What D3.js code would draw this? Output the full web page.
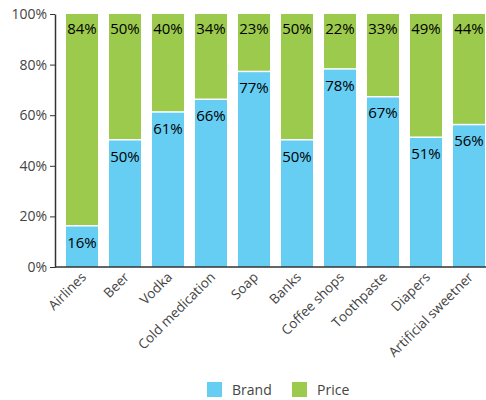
<!DOCTYPE html>
<html>
<head>
<meta charset="utf-8">
<script src="https://cdn.jsdelivr.net/npm/d3@7"></script>
<style>
  body { margin: 0; background: #fff; }
  text { font-family: "Open Sans", "DejaVu Sans", sans-serif; }
</style>
</head>
<body>
<script>
var width = 486,
    height = 400;

// data
var categories = ['Airlines', 'Beer', 'Vodka', 'Cold medication', 'Soap', 'Banks',
                  'Coffee shops', 'Toothpaste', 'Diapers', 'Artificial sweetner'];
var brand = [16, 50, 61, 66, 77, 50, 78, 67, 51, 56];
var price = [84, 50, 40, 34, 23, 50, 22, 33, 49, 44];
var yTicks = [0, 20, 40, 60, 80, 100];
var seriesNames = ['Brand', 'Price'];
var colors = ['#66cdf3', '#9cca4c'];

var svg = d3.select('body')
            .append('svg')
            .attr('width', width)
            .attr('height', height)

var x = d3.scaleBand()
    .domain(categories)
    .range([55, 496])
    .paddingInner(0.256)
    .paddingOuter(0.256)

var y = d3.scaleLinear()
    .domain([0, 100])
    .range([267, 14])

var rows = categories.map(function(c, i) {
  return {cat: c, Brand: brand[i], Price: price[i]}
})

// bars: brand at the bottom, price on top up to 100
var g = svg.append('g')
g.selectAll('rect.brand')
  .data(rows)
  .enter().append('rect')
  .attr('x', d => x(d.cat))
  .attr('width', x.bandwidth())
  .attr('y', d => y(d.Brand))
  .attr('height', d => y(0) - y(d.Brand))
  .attr('fill', colors[0])

g.selectAll('rect.price')
  .data(rows)
  .enter().append('rect')
  .attr('x', d => x(d.cat))
  .attr('width', x.bandwidth())
  .attr('y', y(100))
  .attr('height', d => y(d.Brand) - y(100) - 1.5)
  .attr('fill', colors[1])

// value labels
g.selectAll('text.pl')
  .data(rows)
  .enter().append('text')
  .attr('x', d => x(d.cat) + x.bandwidth() / 2)
  .attr('y', y(100) + 20)
  .attr('text-anchor', 'middle')
  .attr('font-size', 15)
  .attr('fill', '#000')
  .text(d => d.Price + '%')

g.selectAll('text.bl')
  .data(rows)
  .enter().append('text')
  .attr('x', d => x(d.cat) + x.bandwidth() / 2)
  .attr('y', d => y(d.Brand) + 21)
  .attr('text-anchor', 'middle')
  .attr('font-size', 15)
  .attr('fill', '#000')
  .text(d => d.Brand + '%')

// y axis
var yAxis = svg.append('g')
  .attr('transform', 'translate(55,0)')
  .call(d3.axisLeft(y).tickValues(yTicks).tickFormat(d => d + '%').tickSize(5).tickSizeOuter(0))
yAxis.select('.domain').attr('stroke', '#333').attr('stroke-width', 1.5)
yAxis.selectAll('.tick line').attr('stroke', '#333')
yAxis.selectAll('.tick text')
  .attr('font-size', 14)
  .attr('fill', '#444')
  .attr('x', -8)
  .attr('font-family', '"Open Sans", "DejaVu Sans", sans-serif')

// x axis
var xAxis = svg.append('g')
  .attr('transform', 'translate(0,267)')
  .call(d3.axisBottom(x).tickSize(0).tickSizeOuter(0))
xAxis.select('.domain').attr('stroke', '#333').attr('stroke-width', 1.5)
  .attr('d', 'M55,0H486')
xAxis.selectAll('.tick text')
  .attr('font-size', 13.5)
  .attr('fill', '#444')
  .attr('font-family', '"Open Sans", "DejaVu Sans", sans-serif')
  .attr('text-anchor', 'end')
  .attr('dy', null)
  .attr('y', 0)
  .attr('transform', 'translate(5,11) rotate(-45)')

// legend
var legend = svg.append('g')
seriesNames.forEach(function(s, i) {
  var lx = [207, 292][i]
  legend.append('rect')
    .attr('x', lx).attr('y', 382)
    .attr('width', 15).attr('height', 15)
    .attr('fill', colors[i])
  legend.append('text')
    .attr('x', lx + 25).attr('y', 395)
    .attr('font-size', 14)
    .attr('fill', '#444')
    .text(s)
})
</script>
</body>
</html>
